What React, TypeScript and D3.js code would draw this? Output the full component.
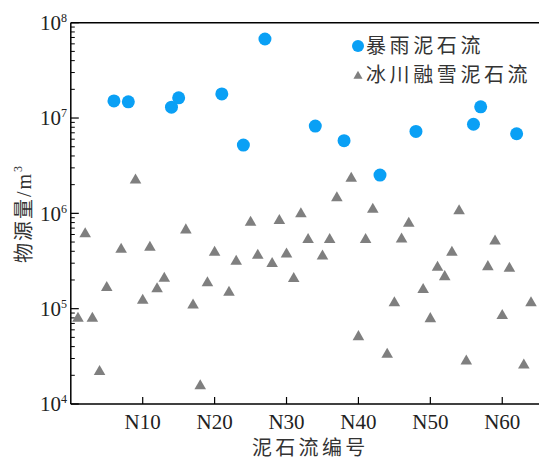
import React from 'react'
import * as d3 from 'd3'

// 暴雨泥石流 (rainstorm debris flows)
const rainIds = [6, 8, 14, 15, 21, 24, 27, 34, 38, 43, 48, 56, 57, 62]
const rainVolume = [1.51e7, 1.48e7, 1.30e7, 1.63e7, 1.79e7, 5.2e6, 6.75e7, 8.24e6, 5.78e6, 2.52e6, 7.24e6, 8.6e6, 1.31e7, 6.84e6]

// 冰川融雪泥石流 (glacier / snowmelt debris flows)
const glacierIds = [1, 2, 3, 4, 5, 7, 9, 10, 11, 12, 13, 16, 17, 18, 19, 20, 22, 23, 25, 26, 28, 29, 30, 31, 32, 33, 35, 36, 37, 39, 40, 41, 42, 44, 45, 46, 47, 49, 50, 51, 52, 53, 54, 55, 58, 59, 60, 61, 63, 64]
const glacierVolume = [
    7.9e4, 6.07e5, 7.9e4, 2.18e4, 1.66e5, 4.19e5, 2.23e6, 1.22e5, 4.4e5, 1.61e5,
    2.08e5, 6.68e5, 1.09e5, 1.55e4, 1.86e5, 3.89e5, 1.48e5, 3.13e5, 8.04e5, 3.62e5,
    2.96e5, 8.36e5, 3.74e5, 2.06e5, 9.84e5, 5.29e5, 3.56e5, 5.29e5, 1.45e6, 2.33e6,
    5.07e4, 5.29e5, 1.10e6, 3.31e4, 1.15e5, 5.37e5, 7.85e5, 1.58e5, 7.83e4, 2.71e5,
    2.16e5, 3.89e5, 1.06e6, 2.82e4, 2.75e5, 5.12e5, 8.43e4, 2.65e5, 2.56e4, 1.15e5,
]

const xTicks = [10, 20, 30, 40, 50, 60]
const xTickLabels = ['N10', 'N20', 'N30', 'N40', 'N50', 'N60']
const yExponents = [4, 5, 6, 7, 8]
const legendLabels = ['暴雨泥石流', '冰川融雪泥石流']

const W = 539, H = 458
const left = 70.8, right = 538.2, top = 22.7, bottom = 404
const blue = '#0aa0f5'
const grey = '#7f7f7f'
const font = '"Liberation Serif", "Noto Sans CJK SC", serif'

export default function App() {
    const x = d3.scaleLinear().domain([0, 65]).range([left, right])
    const y = d3.scaleLog().domain([1e4, 1e8]).range([bottom, top])

    const tri = d3.symbol(d3.symbolTriangle, 58)()
    const triSmall = d3.symbol(d3.symbolTriangle, 36)()

    // minor ticks 2..9 per decade
    const minor: number[] = []
    for (let e = 4; e < 8; e++) {
        for (let m = 2; m <= 9; m++) minor.push(m * Math.pow(10, e))
    }

    return (
        <svg width={W} height={H} style={{ position: 'absolute', left: 0, top: 0, display: 'block', background: '#fff' }} fontFamily={font}>
            {/* frame */}
            <line x1={left} x2={W} y1={top} y2={top} stroke="#000" strokeWidth={1.5} />
            <line x1={left} x2={W} y1={bottom} y2={bottom} stroke="#000" strokeWidth={1.5} />
            <line x1={left} x2={left} y1={top} y2={bottom} stroke="#000" strokeWidth={1.5} />

            {/* y ticks */}
            {yExponents.map(e => (
                <g key={'y' + e}>
                    <line x1={left} x2={left + 8} y1={y(Math.pow(10, e))} y2={y(Math.pow(10, e))} stroke="#000" strokeWidth={1.2} />
                    <text x={67} y={y(Math.pow(10, e)) + 7.3} textAnchor="end" fontSize={21} fill="#222">
                        10<tspan fontSize={12} dy={-8}>{e}</tspan>
                    </text>
                </g>
            ))}
            {minor.map((v, i) => (
                <line key={'m' + i} x1={left} x2={left + 4} y1={y(v)} y2={y(v)} stroke="#000" strokeWidth={1} />
            ))}

            {/* x ticks */}
            {xTicks.map((t, i) => (
                <g key={'x' + t}>
                    <line x1={x(t)} x2={x(t)} y1={bottom} y2={bottom - 7} stroke="#000" strokeWidth={1.2} />
                    <text x={x(t)} y={429} textAnchor="middle" fontSize={21} fill="#222">{xTickLabels[i]}</text>
                </g>
            ))}

            {/* glacier points */}
            {glacierIds.map((id, i) => (
                <path key={'g' + i} d={tri as string} transform={`translate(${x(id)},${y(glacierVolume[i])})`} fill={grey} />
            ))}

            {/* rainstorm points */}
            {rainIds.map((id, i) => (
                <circle key={'r' + i} cx={x(id)} cy={y(rainVolume[i])} r={6.5} fill={blue} />
            ))}

            {/* legend */}
            <circle cx={358} cy={46} r={6} fill={blue} />
            <text x={366} y={46} dominantBaseline="central" fontSize={20} letterSpacing={3.6} fill="#333">{legendLabels[0]}</text>
            <path d={triSmall as string} transform="translate(358,76)" fill={grey} />
            <text x={366} y={75} dominantBaseline="central" fontSize={20} letterSpacing={3.6} fill="#333">{legendLabels[1]}</text>

            {/* axis titles */}
            <text x={252} y={455} fontSize={20} letterSpacing={3.3} fill="#333">泥石流编号</text>
            <text transform="translate(31,263) rotate(-90)" fontSize={20} letterSpacing={2} fill="#333">
                物源量/m<tspan fontSize={12} dy={-9}>3</tspan>
            </text>
        </svg>
    )
}
